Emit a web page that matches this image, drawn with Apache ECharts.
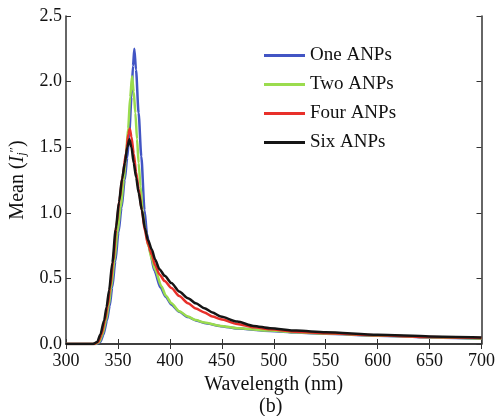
<!DOCTYPE html>
<html><head><meta charset="utf-8">
<script src="https://cdn.jsdelivr.net/npm/echarts@6/dist/echarts.min.js"></script>
<style>html,body{margin:0;padding:0;background:#fff}#c{width:498px;height:416px}</style>
</head><body><div id="c"></div>
<script>
// Wavelength (nm) / Mean value pairs
var oneANPs = [[300,0],[329,0],[333,0.015],[336,0.07],[339.5,0.18],[342,0.29],[344.5,0.43],[347.5,0.63],[350.5,0.85],[353.5,1.04],[356.5,1.25],[359,1.42],[361,1.62],[363,1.88],[364.5,2.12],[365.8,2.25],[367.4,2.09],[369.9,1.76],[372.5,1.43],[375.6,1.02],[378,0.84],[381,0.70],[385,0.56],[391,0.43],[396,0.36],[401.5,0.30],[409,0.245],[417.4,0.205],[425,0.18],[433.2,0.16],[449,0.136],[464.8,0.118],[496.4,0.10],[521.7,0.087],[550,0.078],[600,0.063],[650,0.05],[700,0.04]];
var twoANPs = [[300,0],[328,0],[332,0.015],[335,0.07],[338.5,0.18],[341,0.29],[343.5,0.43],[346.5,0.63],[349.5,0.85],[352.6,1.04],[355.7,1.25],[357.8,1.45],[359.8,1.64],[361.8,1.88],[363.6,2.04],[365.2,1.92],[366.8,1.76],[368.4,1.56],[369.9,1.38],[371.8,1.2],[373.7,1.02],[376,0.88],[379.4,0.744],[382.5,0.65],[385.8,0.566],[392,0.438],[396,0.37],[401.5,0.311],[409,0.25],[417.4,0.209],[425,0.182],[433.2,0.163],[449,0.138],[464.8,0.12],[496.4,0.102],[521.7,0.089],[550,0.08],[600,0.065],[650,0.052],[700,0.042]];
var fourANPs = [[300,0],[327,0],[331,0.015],[334,0.07],[337.5,0.18],[340,0.29],[342.5,0.43],[345.5,0.64],[348.5,0.9],[351.5,1.1],[354.5,1.28],[357.9,1.46],[360,1.6],[361.4,1.64],[363,1.58],[365.2,1.45],[367.5,1.31],[370,1.18],[373,1.02],[376,0.86],[379,0.76],[382.6,0.68],[385.8,0.60],[390,0.53],[395,0.48],[401.5,0.426],[409,0.365],[417.4,0.311],[425,0.27],[433.2,0.24],[441,0.21],[449,0.189],[464.8,0.153],[480.6,0.127],[496.4,0.112],[521.7,0.094],[550,0.082],[600,0.066],[650,0.053],[700,0.045]];
var sixANPs = [[300,0],[326,0],[330,0.015],[333,0.07],[336.7,0.18],[339,0.28],[341.5,0.41],[344.6,0.62],[347.8,0.87],[351,1.08],[354,1.26],[356.6,1.38],[359,1.5],[361,1.56],[363,1.5],[365.2,1.38],[367.5,1.27],[370,1.15],[373,1.02],[376,0.88],[379,0.79],[382.6,0.72],[385.8,0.645],[390,0.57],[395,0.52],[401.5,0.464],[409,0.40],[417.4,0.349],[425,0.31],[433.2,0.273],[441,0.24],[449,0.209],[464.8,0.171],[480.6,0.138],[496.4,0.12],[521.7,0.102],[550,0.09],[600,0.07],[650,0.058],[700,0.05]];
var seriesNames = ['One ANPs','Two ANPs','Four ANPs','Six ANPs'];
var seriesColors = ['#4255c4','#9bdc4e','#e8302a','#151515'];
var xTitle = 'Wavelength (nm)';
var panelLabel = '(b)';

var font = 'Times New Roman';
var chart = echarts.init(document.getElementById('c'), null, {renderer:'canvas'});
var axisLine = {show:true, lineStyle:{color:'#333', width:1.5}};
function mk(name, data, color, z){
  return {name:name, type:'line', data:data, showSymbol:false, smooth:0.25, smoothMonotone:'x',
    lineStyle:{color:color, width:2.5}, itemStyle:{color:color}, z:z};
}
chart.setOption({
  backgroundColor:'#fff',
  animation:false,
  textStyle:{fontFamily:font},
  grid:{left:66, right:9, top:16, bottom:72},
  legend:{orient:'vertical', left:259, top:41, icon:'rect', itemWidth:41, itemHeight:3, itemGap:10,
    textStyle:{fontFamily:font, fontSize:19, color:'#111', lineHeight:19},
    data:seriesNames},
  xAxis:[{type:'value', min:300, max:700, interval:50, position:'bottom',
    axisLine:axisLine, axisTick:{show:true, inside:true, length:5, lineStyle:{color:'#333'}},
    axisLabel:{fontFamily:font, fontSize:18, color:'#111', margin:8},
    splitLine:{show:false},
    name:xTitle, nameLocation:'middle', nameGap:27,
    nameTextStyle:{fontFamily:font, fontSize:20, color:'#111'}},
   {type:'value', min:300, max:700, interval:50, position:'top',
    axisLine:axisLine, axisTick:{show:true, inside:true, length:5, lineStyle:{color:'#333'}},
    axisLabel:{show:false}, splitLine:{show:false}}],
  yAxis:[{type:'value', min:0, max:2.5, interval:0.5, position:'left',
    axisLine:axisLine, axisTick:{show:true, inside:true, length:5, lineStyle:{color:'#333'}},
    axisLabel:{fontFamily:font, fontSize:18, color:'#111', margin:4, formatter:function(v){return v.toFixed(1);}},
    splitLine:{show:false},
    name:'Mean ({i|I}{sub|j}{sup|″})', nameLocation:'middle', nameGap:38,
    nameTextStyle:{fontFamily:font, fontSize:20, color:'#111',
      rich:{i:{fontFamily:font, fontSize:20, fontStyle:'italic', color:'#111'},
            sub:{fontFamily:font, fontSize:12, fontStyle:'italic', color:'#111', verticalAlign:'bottom', padding:[8,0,0,0]},
            sup:{fontFamily:font, fontSize:13, color:'#111', verticalAlign:'top', padding:[0,0,6,0]}}}},
   {type:'value', min:0, max:2.5, interval:0.5, position:'right',
    axisLine:axisLine, axisTick:{show:true, inside:true, length:5, lineStyle:{color:'#333'}},
    axisLabel:{show:false}, splitLine:{show:false}}],
  graphic:[{type:'text', left:259, top:397, style:{text:panelLabel, fontFamily:font, fontSize:20, fill:'#111'}}],
  series:[mk(seriesNames[0], oneANPs, seriesColors[0], 3),
          mk(seriesNames[1], twoANPs, seriesColors[1], 4),
          mk(seriesNames[2], fourANPs, seriesColors[2], 5),
          mk(seriesNames[3], sixANPs, seriesColors[3], 6)]
});
</script></body></html>
